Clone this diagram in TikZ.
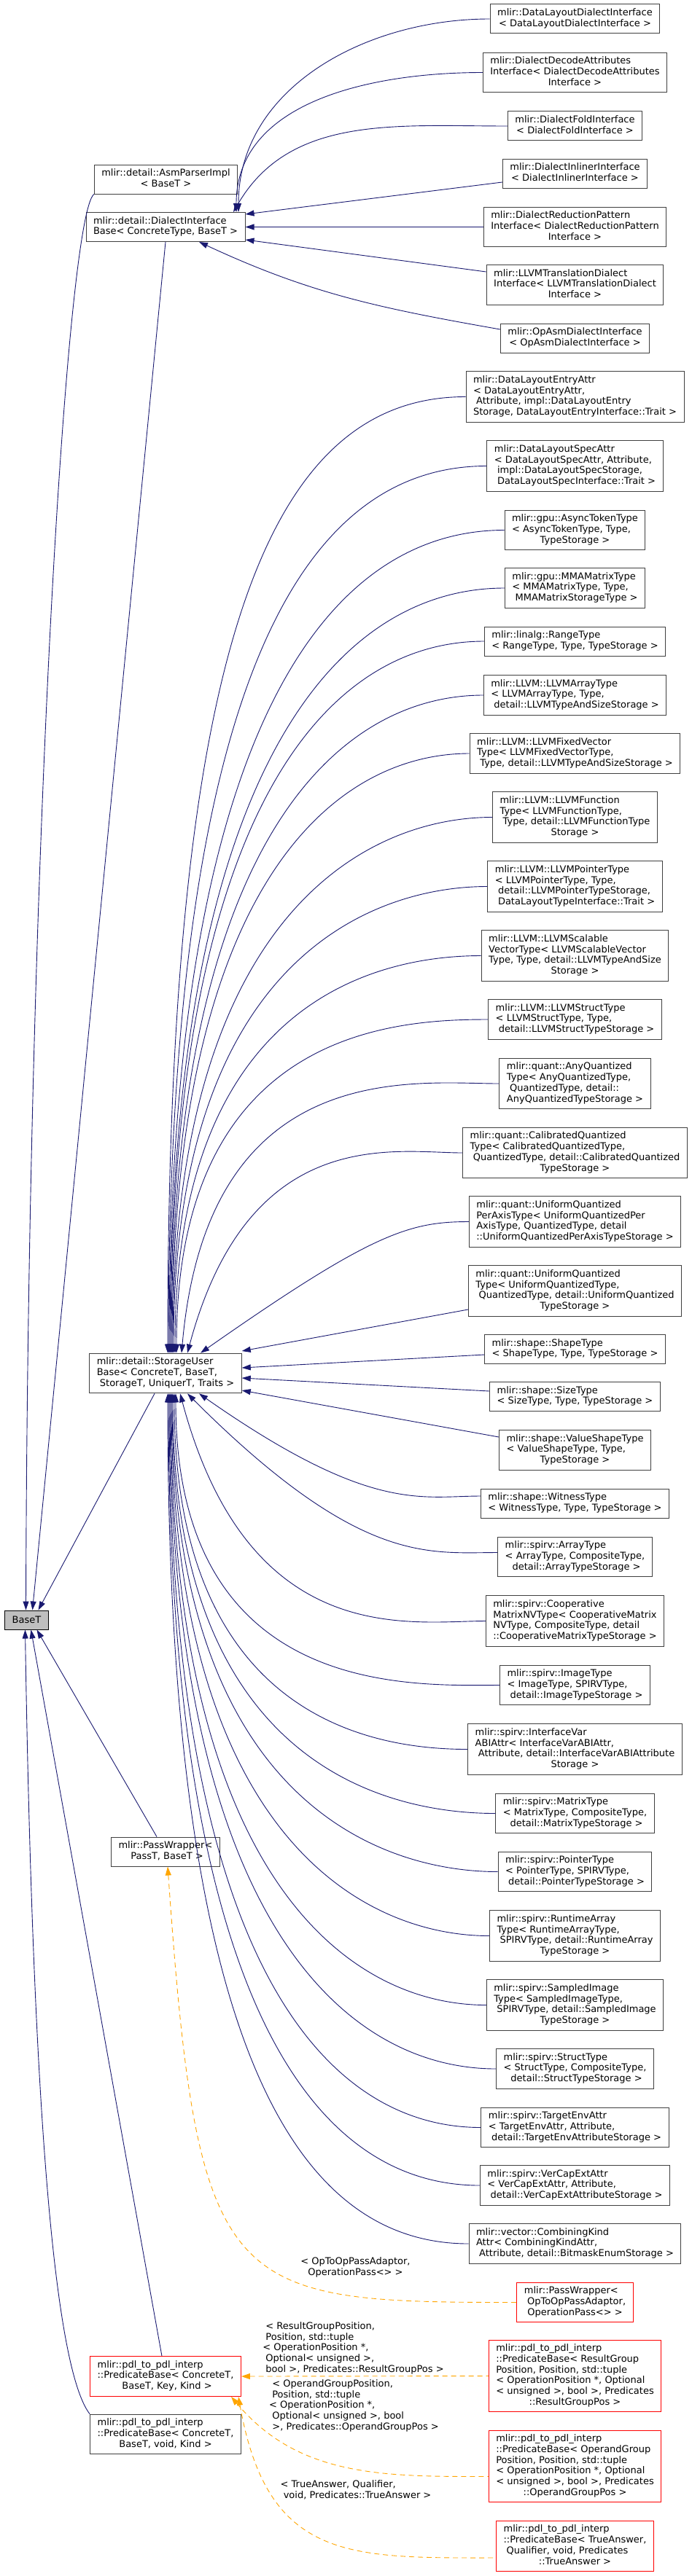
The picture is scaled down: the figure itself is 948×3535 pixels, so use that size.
\documentclass[tikz,border=0pt]{standalone}
\usepackage{fontspec}
\setmainfont{DejaVu Sans}
\usetikzlibrary{arrows.meta}
\definecolor{edgeblue}{RGB}{25,25,112}
\definecolor{boxgrey}{RGB}{64,64,64}
\definecolor{basegrey}{RGB}{191,191,191}
\definecolor{linkorange}{RGB}{255,165,0}
\definecolor{cutred}{RGB}{255,0,0}
% lines left-aligned, last line centred
\newcommand{\lns}[2]{\begin{tabular}{@{}l@{}}#1\\\multicolumn{1}{@{}c@{}}{#2}\end{tabular}}

\begin{document}
\begin{tikzpicture}[x=1pt,y=1pt,
  font=\fontsize{13}{14.7}\selectfont,
  cls/.style={draw=boxgrey,fill=white,line width=1pt,inner xsep=10pt,inner ysep=5.3pt},
  cut/.style={cls,draw=cutred},
  basebox/.style={cls,draw=black,fill=basegrey,minimum height=26pt},
  inh/.style={draw=edgeblue,line width=0.9pt,{Triangle[length=12pt,width=8pt]}-},
  tmpl/.style={draw=linkorange,line width=0.9pt,dash pattern=on 7pt off 5pt,{Triangle[length=12pt,width=8pt]}-},
  elabel/.style={inner sep=0pt}]
  \useasboundingbox (0,0) rectangle (948,-3535);

  % left column
  \node[cls] (asmParser) at (227.5,-246) {\lns{mlir::detail::AsmParserImpl}{< BaseT >}};
  \node[cls] (dialectIfBase) at (227,-311.5) {\lns{mlir::detail::DialectInterface}{Base< ConcreteType, BaseT >}};
  \node[cls] (storageUserBase) at (227,-1884.5) {\lns{mlir::detail::StorageUser\\Base< ConcreteT, BaseT,}{\ StorageT, UniquerT, Traits >}};
  \node[basebox] (baseT) at (36.5,-2223) {BaseT};
  \node[cls] (passWrapperBase) at (227,-2541) {\lns{mlir::PassWrapper<}{\ PassT, BaseT >}};
  \node[cut] (pdlKindBase) at (227,-3261) {\lns{mlir::pdl\_to\_pdl\_interp\\::PredicateBase< ConcreteT,}{\ BaseT, Key, Kind >}};
  \node[cls] (pdlVoidBase) at (227,-3340.5) {\lns{mlir::pdl\_to\_pdl\_interp\\::PredicateBase< ConcreteT,}{BaseT, void, Kind >}};

  % dialect interfaces
  \node[cls] (dlDialect) at (788.5,-26) {\lns{mlir::DataLayoutDialectInterface}{< DataLayoutDialectInterface >}};
  \node[cls] (decodeAttr) at (788.5,-99.5) {\lns{mlir::DialectDecodeAttributes\\Interface< DialectDecodeAttributes}{Interface >}};
  \node[cls] (foldIf) at (788.5,-173) {\lns{mlir::DialectFoldInterface}{< DialectFoldInterface >}};
  \node[cls] (inlinerIf) at (788.5,-238) {\lns{mlir::DialectInlinerInterface}{< DialectInlinerInterface >}};
  \node[cls] (reductionIf) at (788.5,-311.5) {\lns{mlir::DialectReductionPattern\\Interface< DialectReductionPattern}{Interface >}};
  \node[cls] (llvmTransIf) at (788.5,-391) {\lns{mlir::LLVMTranslationDialect\\Interface< LLVMTranslationDialect}{Interface >}};
  \node[cls] (opAsmIf) at (788.5,-464) {\lns{mlir::OpAsmDialectInterface}{< OpAsmDialectInterface >}};

  % storage users
  \node[cls] (dlEntry) at (788.5,-544.5) {\lns{mlir::DataLayoutEntryAttr\\< DataLayoutEntryAttr,\\\ Attribute, impl::DataLayoutEntry}{Storage, DataLayoutEntryInterface::Trait >}};
  \node[cls] (dlSpec) at (788.5,-639.5) {\lns{mlir::DataLayoutSpecAttr\\< DataLayoutSpecAttr, Attribute,\\\ impl::DataLayoutSpecStorage,}{\ DataLayoutSpecInterface::Trait >}};
  \node[cls] (asyncToken) at (788.5,-727.5) {\lns{mlir::gpu::AsyncTokenType\\< AsyncTokenType, Type,}{TypeStorage >}};
  \node[cls] (mmaMatrix) at (788.5,-807) {\lns{mlir::gpu::MMAMatrixType\\< MMAMatrixType, Type,}{\ MMAMatrixStorageType >}};
  \node[cls] (rangeType) at (788.5,-880) {\lns{mlir::linalg::RangeType}{< RangeType, Type, TypeStorage >}};
  \node[cls] (llvmArray) at (788.5,-954) {\lns{mlir::LLVM::LLVMArrayType\\< LLVMArrayType, Type,}{\ detail::LLVMTypeAndSizeStorage >}};
  \node[cls] (llvmFixedVec) at (788.5,-1034) {\lns{mlir::LLVM::LLVMFixedVector\\Type< LLVMFixedVectorType,}{\ Type, detail::LLVMTypeAndSizeStorage >}};
  \node[cls] (llvmFunction) at (788.5,-1121.5) {\lns{mlir::LLVM::LLVMFunction\\Type< LLVMFunctionType,\\\ Type, detail::LLVMFunctionType}{Storage >}};
  \node[cls] (llvmPointer) at (788.5,-1216.5) {\lns{mlir::LLVM::LLVMPointerType\\< LLVMPointerType, Type,\\\ detail::LLVMPointerTypeStorage,}{\ DataLayoutTypeInterface::Trait >}};
  \node[cls] (llvmScalable) at (788.5,-1311.5) {\lns{mlir::LLVM::LLVMScalable\\VectorType< LLVMScalableVector\\Type, Type, detail::LLVMTypeAndSize}{Storage >}};
  \node[cls] (llvmStruct) at (788.5,-1399) {\lns{mlir::LLVM::LLVMStructType\\< LLVMStructType, Type,}{\ detail::LLVMStructTypeStorage >}};
  \node[cls] (anyQuant) at (788.5,-1487) {\lns{mlir::quant::AnyQuantized\\Type< AnyQuantizedType,\\\ QuantizedType, detail::}{AnyQuantizedTypeStorage >}};
  \node[cls] (calibQuant) at (788.5,-1582) {\lns{mlir::quant::CalibratedQuantized\\Type< CalibratedQuantizedType,\\\ QuantizedType, detail::CalibratedQuantized}{TypeStorage >}};
  \node[cls] (perAxisQuant) at (788.5,-1676.5) {\lns{mlir::quant::UniformQuantized\\PerAxisType< UniformQuantizedPer\\AxisType, QuantizedType, detail}{::UniformQuantizedPerAxisTypeStorage >}};
  \node[cls] (uniformQuant) at (788.5,-1771.5) {\lns{mlir::quant::UniformQuantized\\Type< UniformQuantizedType,\\\ QuantizedType, detail::UniformQuantized}{TypeStorage >}};
  \node[cls] (shapeType) at (788.5,-1851.5) {\lns{mlir::shape::ShapeType}{< ShapeType, Type, TypeStorage >}};
  \node[cls] (sizeType) at (788.5,-1916.5) {\lns{mlir::shape::SizeType}{< SizeType, Type, TypeStorage >}};
  \node[cls] (valueShape) at (788.5,-1990) {\lns{mlir::shape::ValueShapeType\\< ValueShapeType, Type,}{TypeStorage >}};
  \node[cls] (witnessType) at (788.5,-2063) {\lns{mlir::shape::WitnessType}{< WitnessType, Type, TypeStorage >}};
  \node[cls] (arrayType) at (788.5,-2136.5) {\lns{mlir::spirv::ArrayType\\< ArrayType, CompositeType,}{\ detail::ArrayTypeStorage >}};
  \node[cls] (coopMatrix) at (788.5,-2224.5) {\lns{mlir::spirv::Cooperative\\MatrixNVType< CooperativeMatrix\\NVType, CompositeType, detail}{::CooperativeMatrixTypeStorage >}};
  \node[cls] (imageType) at (788.5,-2312.5) {\lns{mlir::spirv::ImageType\\< ImageType, SPIRVType,}{\ detail::ImageTypeStorage >}};
  \node[cls] (ifaceVarAbi) at (788.5,-2400.5) {\lns{mlir::spirv::InterfaceVar\\ABIAttr< InterfaceVarABIAttr,\\\ Attribute, detail::InterfaceVarABIAttribute}{Storage >}};
  \node[cls] (matrixType) at (788.5,-2488.5) {\lns{mlir::spirv::MatrixType\\< MatrixType, CompositeType,}{\ detail::MatrixTypeStorage >}};
  \node[cls] (pointerType) at (788.5,-2568.5) {\lns{mlir::spirv::PointerType\\< PointerType, SPIRVType,}{\ detail::PointerTypeStorage >}};
  \node[cls] (runtimeArray) at (788.5,-2656.5) {\lns{mlir::spirv::RuntimeArray\\Type< RuntimeArrayType,\\\ SPIRVType, detail::RuntimeArray}{TypeStorage >}};
  \node[cls] (sampledImage) at (788.5,-2751.5) {\lns{mlir::spirv::SampledImage\\Type< SampledImageType,\\\ SPIRVType, detail::SampledImage}{TypeStorage >}};
  \node[cls] (structType) at (788.5,-2839) {\lns{mlir::spirv::StructType\\< StructType, CompositeType,}{\ detail::StructTypeStorage >}};
  \node[cls] (targetEnv) at (788.5,-2919.5) {\lns{mlir::spirv::TargetEnvAttr\\< TargetEnvAttr, Attribute,}{\ detail::TargetEnvAttributeStorage >}};
  \node[cls] (verCapExt) at (788.5,-2999) {\lns{mlir::spirv::VerCapExtAttr\\< VerCapExtAttr, Attribute,}{\ detail::VerCapExtAttributeStorage >}};
  \node[cls] (combiningKind) at (788.5,-3079) {\lns{mlir::vector::CombiningKind\\Attr< CombiningKindAttr,}{\ Attribute, detail::BitmaskEnumStorage >}};

  % template instances
  \node[cut] (passWrapperOp) at (788.5,-3159.5) {\lns{mlir::PassWrapper<\\\ OpToOpPassAdaptor,}{OperationPass<> >}};
  \node[cut] (pdlResultGroup) at (788.5,-3260.5) {\lns{mlir::pdl\_to\_pdl\_interp\\::PredicateBase< ResultGroup\\Position, Position, std::tuple\\< OperationPosition *, Optional\\< unsigned >, bool >, Predicates}{::ResultGroupPos >}};
  \node[cut] (pdlOperandGroup) at (788.5,-3384.5) {\lns{mlir::pdl\_to\_pdl\_interp\\::PredicateBase< OperandGroup\\Position, Position, std::tuple\\< OperationPosition *, Optional\\< unsigned >, bool >, Predicates}{::OperandGroupPos >}};
  \node[cut] (pdlTrueAnswer) at (788.5,-3494) {\lns{mlir::pdl\_to\_pdl\_interp\\::PredicateBase< TrueAnswer,\\\ Qualifier, void, Predicates}{::TrueAnswer >}};

  \node[elabel] (lblPass) at (487.5,-3112) {\lns{< OpToOpPassAdaptor,}{OperationPass<> >}};
  \node[elabel] (lblResult) at (484.5,-3223) {\lns{\ < ResultGroupPosition,\\\ Position, std::tuple\\< OperationPosition *,\\\ Optional< unsigned >,}{\ bool >, Predicates::ResultGroupPos >}};
  \node[elabel] (lblOperand) at (485.5,-3302) {\lns{\ < OperandGroupPosition,\\\ Position, std::tuple\\< OperationPosition *,\\\ Optional< unsigned >, bool}{\ >, Predicates::OperandGroupPos >}};
  \node[elabel] (lblTrue) at (488,-3418) {\lns{< TrueAnswer, Qualifier,}{\ void, Predicates::TrueAnswer >}};

  % edges into BaseT
  \draw[inh] ([xshift=-1]baseT.north) .. controls (38,-1200) and (90,-300) .. (asmParser.south west);
  \draw[inh] ([xshift=8]baseT.north) -- (dialectIfBase.south);
  \draw[inh] ([xshift=16]baseT.north) -- ([xshift=-15]storageUserBase.south);
  \draw[inh] ([xshift=14]baseT.south) -- ([xshift=-12]passWrapperBase.north);
  \draw[inh] ([xshift=6]baseT.south) -- ([xshift=-5]pdlKindBase.north);
  \draw[inh] ([xshift=-2]baseT.south) .. controls (45,-2900) and (75,-3250) .. (pdlVoidBase.north west);

  % edges into DialectInterfaceBase
  \draw[inh] ([xshift=100]dialectIfBase.north) to[out=90,in=180] (dlDialect.west);
  \draw[inh] ([xshift=97]dialectIfBase.north) to[out=90,in=180] (decodeAttr.west);
  \draw[inh] ([xshift=93]dialectIfBase.north) to[out=60,in=180] (foldIf.west);
  \draw[inh] ([yshift=17.5]dialectIfBase.east) -- ([yshift=-12]inlinerIf.west);
  \draw[inh] (dialectIfBase.east) -- (reductionIf.west);
  \draw[inh] ([yshift=-17.5]dialectIfBase.east) -- ([yshift=18]llvmTransIf.west);
  \draw[inh] ([xshift=46]dialectIfBase.south) to[out=-25,in=170] ([yshift=12]opAsmIf.west);

  % edges into StorageUserBase
  \foreach \cname/\dx/\da/\db in {dlEntry/3/962/275,dlSpec/4/906/259,asyncToken/5/854/244,
      mmaMatrix/6/803/229,rangeType/7/748/214,llvmArray/8/701/200,llvmFixedVec/9/645/184,
      llvmFunction/10/602/172,llvmPointer/11/543/155,llvmScalable/13/486/139,llvmStruct/15/444/127}
    \draw[inh] ([xshift=\dx]storageUserBase.north) .. controls +(90:\da) and +(180:\db) .. (\cname.west);
  \draw[inh] ([xshift=22]storageUserBase.north) .. controls +(85:410) and +(180:117) .. (anyQuant.west);
  \draw[inh] ([xshift=30]storageUserBase.north) .. controls +(75:327) and +(180:93) .. (calibQuant.west);
  \draw[inh] ([xshift=48]storageUserBase.north) .. controls +(35:286) and +(180:82) .. (perAxisQuant.west);
  \draw[inh] ([yshift=30.5]storageUserBase.east) -- ([yshift=-25.5]uniformQuant.west);
  \draw[inh] ([yshift=7.5]storageUserBase.east) -- ([yshift=-7.5]shapeType.west);
  \draw[inh] ([yshift=-6.5]storageUserBase.east) -- ([yshift=7.5]sizeType.west);
  \draw[inh] ([yshift=-23.5]storageUserBase.east) -- ([yshift=18]valueShape.west);
  \draw[inh] ([xshift=46]storageUserBase.south) .. controls +(-35:287) and +(180:82) .. ([yshift=10]witnessType.west);
  \draw[inh] ([xshift=30]storageUserBase.south) .. controls +(-45:334) and +(180:95) .. ([yshift=6]arrayType.west);
  \draw[inh] ([xshift=20]storageUserBase.south) .. controls +(-75:365) and +(180:104) .. (coopMatrix.west);
  \foreach \cname/\dx/\da/\db in {imageType/14/419/120,ifaceVarAbi/12/447/128,matrixType/10/512/146,
      pointerType/9/559/160,runtimeArray/8/606/173,sampledImage/7/663/189,structType/6/722/206,
      targetEnv/5/767/219,verCapExt/4/818/234,combiningKind/3/867/248}
    \draw[inh] ([xshift=\dx]storageUserBase.south) .. controls +(-90:\da) and +(180:\db) .. (\cname.west);

  % template instances
  \draw[tmpl] ([xshift=3]passWrapperBase.south) .. controls +(-86:590) and +(180:400) .. (passWrapperOp.west);
  \draw[tmpl] (pdlKindBase.east) -- (pdlResultGroup.west);
  \draw[tmpl] ([xshift=90]pdlKindBase.south) .. controls +(-50:144) and +(180:144) .. ([yshift=-14]pdlOperandGroup.west);
  \draw[tmpl] ([xshift=100]pdlKindBase.south) .. controls +(-80:230) and +(180:200) .. ([yshift=-16]pdlTrueAnswer.west);
\end{tikzpicture}
\end{document}
